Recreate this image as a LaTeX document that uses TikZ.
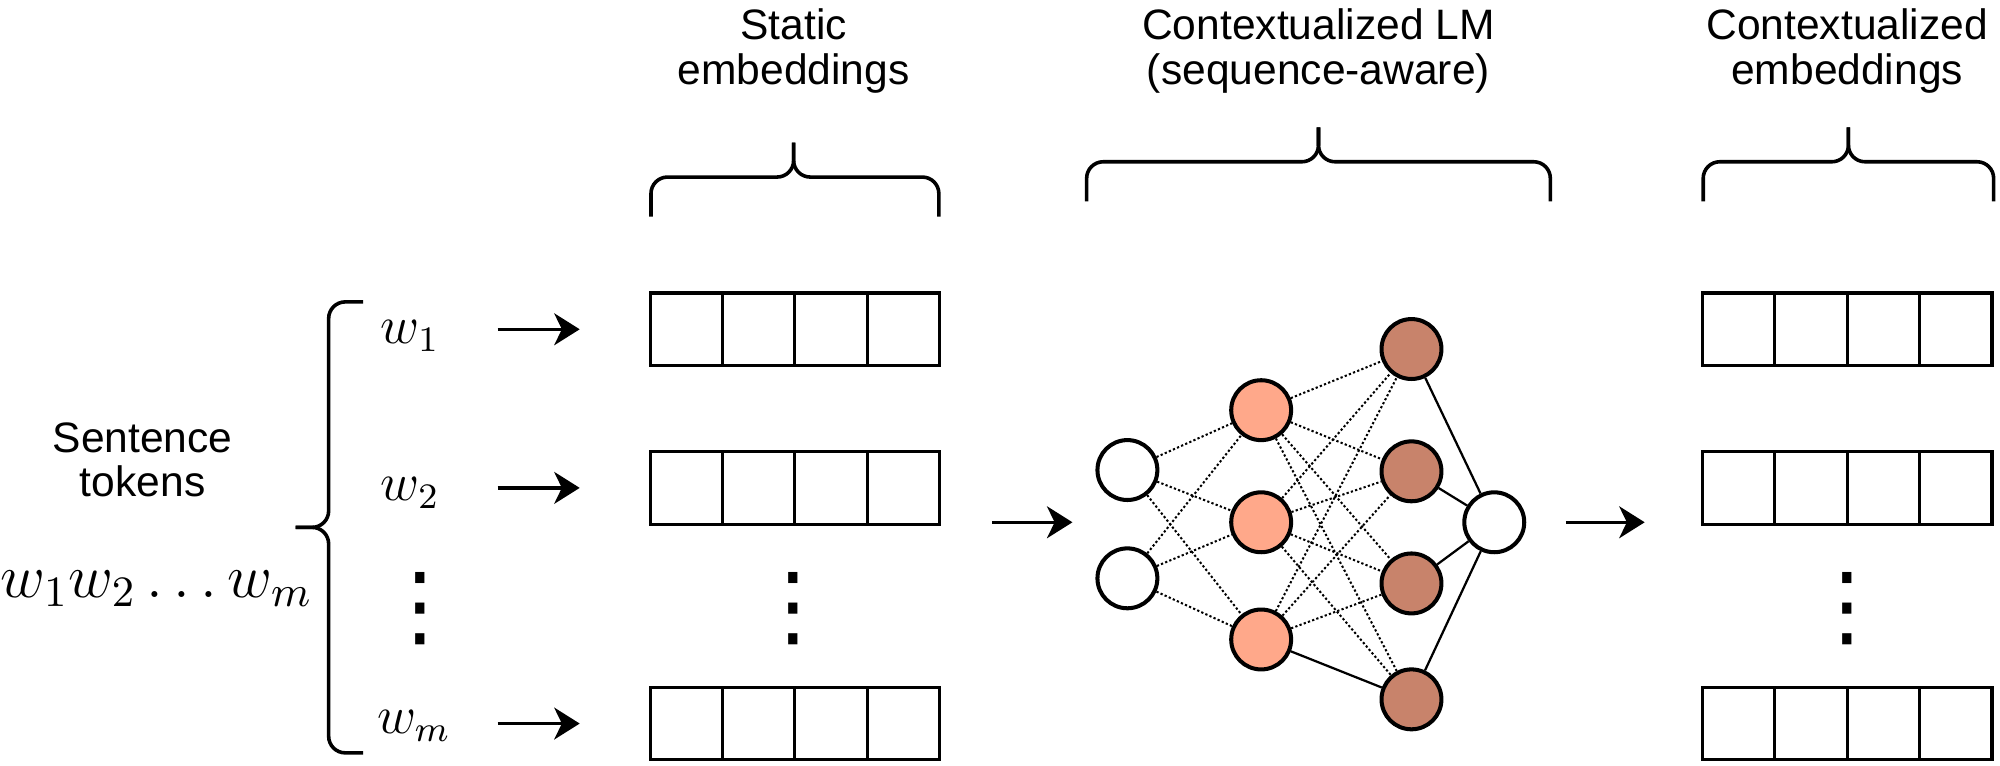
\RequirePackage{fix-cm}
\documentclass[tikz,border=0pt]{standalone}
\usepackage{fontspec}
\setmainfont{Liberation Sans}
\newfontfamily\dotsfont{DejaVu Sans}
\usetikzlibrary{matrix,arrows.meta}

\definecolor{hidA}{HTML}{FFA88A}
\definecolor{hidB}{HTML}{C8836B}

\tikzset{
  emb/.style={matrix of nodes, nodes in empty cells, inner sep=0pt, outer sep=0pt, column sep=-0.7pt,
    nodes={draw, line width=0.7pt, minimum width=5.68mm, minimum height=5.7mm, inner sep=0pt}},
  neuron/.style={circle, draw, line width=0.9pt, minimum size=4.7mm, inner sep=0pt, fill=white},
  link/.style={line width=0.45pt, dash pattern=on 0.5pt off 0.5pt},
  wire/.style={line width=0.5pt},
  feed/.style={-{Stealth[length=2mm, width=2.5mm, inset=0.6mm]}, line width=0.75pt},
  curly/.style={line width=0.8pt, rounded corners=1.3mm},
  vdots/.style={font=\dotsfont\fontsize{20}{20}\selectfont, inner sep=0pt},
  wtok/.style={font=\fontsize{12}{12}\selectfont},
}

\begin{document}
\begin{tikzpicture}[x=0.01cm, y=-0.01cm, font=\fontsize{9.5}{10}\selectfont]
\useasboundingbox (0,0) rectangle (1570,601);

% input side
\node (sent) [align=center] at (112,361) {Sentence\\tokens};
\node (seq) [font=\fontsize{13.8}{13.8}\selectfont, inner sep=0pt] at (123,462) {$w_1w_2\ldots w_m$};
\draw[curly] (285,237) -| (258,414) -- (232,414);
\draw[curly] (285,591) -| (258,414) -- (232,414);

\node (w1) [wtok] at (322,264) {$w_1$};
\node (w2) [wtok] at (322,387) {$w_2$};
\node (wd) [vdots] at (330,478) {⋮};
\node (wm) [wtok] at (325,570) {$w_m$};

% static embeddings
\matrix (s1) [emb] at (624,258.5) {&&&\\};
\matrix (s2) [emb] at (624,383) {&&&\\};
\node (sd) [vdots] at (623,478) {⋮};
\matrix (s3) [emb] at (624,568) {&&&\\};

\node (stat) [align=center] at (623,40) {Static\\embeddings};
\draw[curly] (511,170) |- (623,139) -- (623,112);
\draw[curly] (737,170) |- (623,139) -- (623,112);

\foreach \s in {s1,s2,s3}
  \draw[feed, shorten <=3.3mm, shorten >=5.4mm] (w1.east |- \s.west) -- (\s.west);

% contextualized LM
\node (lm) [align=center] at (1035,40) {Contextualized LM\\(sequence-aware)};
\draw[curly] (853,158) |- (1035,127) -- (1035,100);
\draw[curly] (1217,158) |- (1035,127) -- (1035,100);

\node (in1) [neuron] at (885,369) {};
\node (in2) [neuron] at (885,454) {};
\node (a1) [neuron, fill=hidA] at (990,322) {};
\node (a2) [neuron, fill=hidA] at (990,410) {};
\node (a3) [neuron, fill=hidA] at (990,502) {};
\node (b1) [neuron, fill=hidB] at (1108,274) {};
\node (b2) [neuron, fill=hidB] at (1108,370) {};
\node (b3) [neuron, fill=hidB] at (1108,458) {};
\node (b4) [neuron, fill=hidB] at (1108,549) {};
\node (out) [neuron] at (1173,410) {};

\foreach \i in {in1,in2}
  \foreach \j in {a1,a2,a3}
    \draw[link] (\i) -- (\j);
\foreach \i/\j in {a1/b1,a1/b2,a1/b3,a1/b4,a2/b1,a2/b2,a2/b3,a2/b4,a3/b1,a3/b2,a3/b3}
  \draw[link] (\i) -- (\j);
\draw[wire] (a3) -- (b4);
\foreach \j in {b1,b2,b3,b4}
  \draw[wire] (\j) -- (out);

\draw[feed, shorten <=4mm, shorten >=1.8mm] (s2.east |- a2) -- (in1.west |- a2);

% contextualized embeddings
\matrix (r1) [emb] at (1450,258.5) {&&&\\};
\matrix (r2) [emb] at (1450,383) {&&&\\};
\node (rd) [vdots] at (1450,478) {⋮};
\matrix (r3) [emb] at (1450,568) {&&&\\};

\node (ctx) [align=center] at (1450,40) {Contextualized\\embeddings};
\draw[curly] (1337,158) |- (1451,127) -- (1451,100);
\draw[curly] (1565,158) |- (1451,127) -- (1451,100);

\draw[feed, shorten <=3.1mm, shorten >=4.4mm] (out.east) -- (out.east -| r2.west);
\end{tikzpicture}
\end{document}
